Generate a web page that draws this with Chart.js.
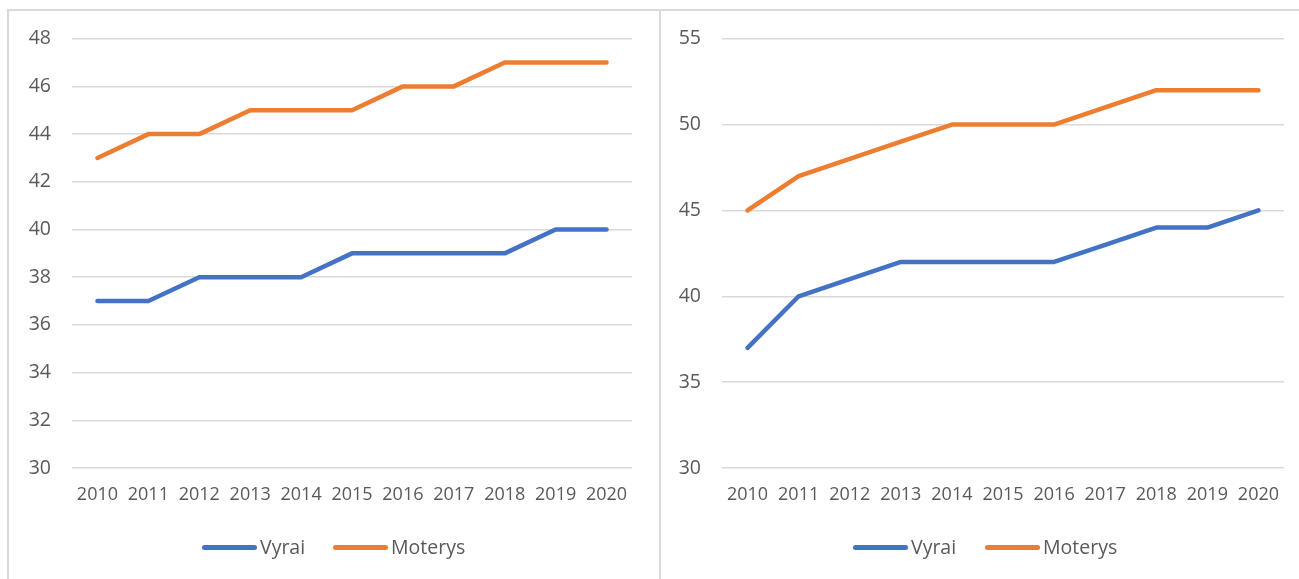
<!DOCTYPE html>
<html>
<head>
<meta charset="utf-8">
<script src="https://cdn.jsdelivr.net/npm/chart.js@4"></script>
<style>
  body { margin: 0; background: #fff; width: 1299px; height: 579px; overflow: hidden; position: relative; font-family: "Open Sans", sans-serif; }
  .panel { position: absolute; top: 9px; height: 580px; border-top: 2px solid #d9d9d9; border-left: 2px solid #d9d9d9; box-sizing: border-box; }
  #p1 { left: 7px; width: 655px; }
  #p2 { left: 659px; width: 650px; }
  .panel canvas { position: absolute; left: 0; top: -5px; }
  .item { position: absolute; top: 533px; font-size: 19.5px; line-height: 28px; color: #595959; white-space: nowrap; }
  .item i { display: inline-block; width: 55px; height: 5px; border-radius: 3px; vertical-align: middle; margin-right: 3px; position: relative; top: -1px; }
</style>
</head>
<body>
<div class="panel" id="p1"><canvas id="chart1" width="653" height="568"></canvas></div>
<div class="panel" id="p2"><canvas id="chart2" width="640" height="568"></canvas></div>
<div class="item" style="left:202px"><i style="background:#4472C4"></i>Vyrai</div>
<div class="item" style="left:333px"><i style="background:#ED7D31"></i>Moterys</div>
<div class="item" style="left:853px"><i style="background:#4472C4"></i>Vyrai</div>
<div class="item" style="left:985px"><i style="background:#ED7D31"></i>Moterys</div>
<script>
const years = ['2010','2011','2012','2013','2014','2015','2016','2017','2018','2019','2020'];
const seriesNames = ['Vyrai', 'Moterys'];
const seriesColors = ['#4472C4', '#ED7D31'];

// kairysis grafikas
const left_vyrai = [37, 37, 38, 38, 38, 39, 39, 39, 39, 40, 40];
const left_moterys = [43, 44, 44, 45, 45, 45, 46, 46, 47, 47, 47];
// dešinysis grafikas
const right_vyrai = [37, 40, 41, 42, 42, 42, 42, 43, 44, 44, 45];
const right_moterys = [45, 47, 48, 49, 50, 50, 50, 51, 52, 52, 52];

const leftTicks = { min: 30, max: 48, step: 2 };
const rightTicks = { min: 30, max: 55, step: 5 };

Chart.defaults.font.family = '"Open Sans", sans-serif';
Chart.defaults.color = '#595959';

function makeChart(id, vyrai, moterys, yt, yWidth, padRight) {
  const ctx = document.getElementById(id).getContext('2d');
  return new Chart(ctx, {
    type: 'line',
    data: {
      labels: years,
      datasets: [vyrai, moterys].map((d, i) => ({
        label: seriesNames[i],
        data: d,
        borderColor: seriesColors[i],
        backgroundColor: seriesColors[i],
        borderWidth: 4.5,
        pointRadius: 0,
        tension: 0,
        borderCapStyle: 'round',
        borderJoinStyle: 'round'
      }))
    },
    options: {
      responsive: false,
      animation: false,
      layout: { padding: { top: 22, right: padRight, left: 0, bottom: 70 } },
      plugins: { legend: { display: false }, tooltip: { enabled: false } },
      scales: {
        x: {
          offset: true,
          grid: { display: false, drawTicks: false },
          border: { display: false },
          ticks: { font: { size: 18 }, padding: 16, maxRotation: 0, autoSkip: false },
          afterFit: s => { s.height = 36; }
        },
        y: {
          min: yt.min, max: yt.max,
          grid: { color: '#d9d9d9', lineWidth: 1.5, drawTicks: false },
          border: { display: false },
          ticks: { stepSize: yt.step, font: { size: 19.5 }, padding: 21 },
          afterFit: s => { s.width = yWidth; }
        }
      }
    }
  });
}

makeChart('chart1', left_vyrai, left_moterys, leftTicks, 63, 30);
makeChart('chart2', right_vyrai, right_moterys, rightTicks, 61, 17);
</script>
</body>
</html>
